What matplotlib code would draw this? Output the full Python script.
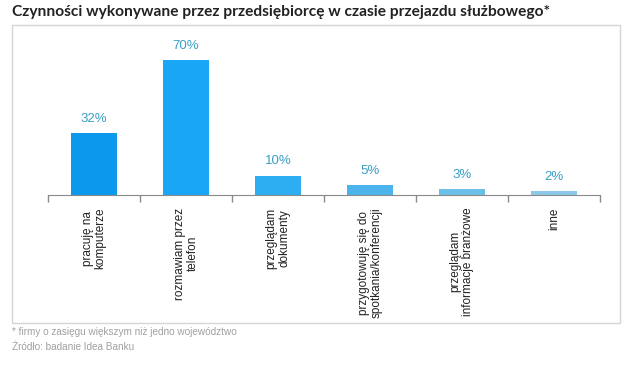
import matplotlib
matplotlib.use("Agg")
import matplotlib.pyplot as plt
from matplotlib.patches import Rectangle

categories = ["pracuję na\nkomputerze", "rozmawiam przez\ntelefon", "przeglądam\ndokumenty",
              "przygotowuję się do\nspotkania/konferencji", "przeglądam\ninformacje branżowe", "inne"]
values = [32, 70, 10, 5, 3, 2]
value_labels = ["32%", "70%", "10%", "5%", "3%", "2%"]
colors = ["#0c98ec", "#1aa6f6", "#2eaef2", "#4cb4ea", "#6cbfe8", "#8cc9e8"]

title = "Czynności wykonywane przez przedsiębiorcę w czasie przejazdu służbowego*"
note1 = "* firmy o zasięgu większym niż jedno województwo"
note2 = "Źródło: badanie Idea Banku"

W, H = 625, 368
fig = plt.figure(figsize=(W/100, H/100), dpi=100)
fig.patch.set_facecolor("white")

# frame box
fig.add_artist(Rectangle((12/W, 1-323/H), (620-12)/W, (323-25)/H, transform=fig.transFigure,
                         fill=False, edgecolor="#d6d6d6", linewidth=1.0))

ax = fig.add_axes([48/W, 1-195/H, 552/W, 155/H])
x = list(range(len(categories)))
ax.bar(x, values, width=0.49, color=colors)
ax.set_xlim(-0.5, len(categories)-0.5)
ax.set_ylim(0, 155/1.93)
for xi, v, lab in zip(x, values, value_labels):
    ax.annotate(lab, (xi, v), xytext=(0, 6), textcoords="offset points", ha="center", va="bottom",
                color="#3a9fc4", fontsize=9.5, family="Liberation Sans")

for s in ["top", "right", "left"]:
    ax.spines[s].set_visible(False)
ax.spines["bottom"].set_color("#8a8a8a")
ax.set_yticks([])
ax.set_xticks(x)
ax.set_xticklabels(categories, rotation=90, ha="center", va="top", multialignment="center",
                   fontsize=8.5, family="Liberation Sans", color="#222222", linespacing=1.1)
ax.tick_params(axis="x", which="major", length=0, pad=9)
ax.set_xticks([i-0.5 for i in range(len(categories)+1)], minor=True)
ax.tick_params(axis="x", which="minor", length=5, color="#8a8a8a", width=1)

fig.text(12/W, 1-12/H, title, fontsize=11.2, fontweight="bold", family="Lato", color="#222222",
         ha="left", va="center")
fig.text(12/W, 1-332/H, note1, fontsize=7.2, family="Liberation Sans", color="#a0a0a0", ha="left", va="center")
fig.text(12/W, 1-347/H, note2, fontsize=7.2, family="Liberation Sans", color="#a0a0a0", ha="left", va="center")

fig.savefig("out.png", dpi=100)
